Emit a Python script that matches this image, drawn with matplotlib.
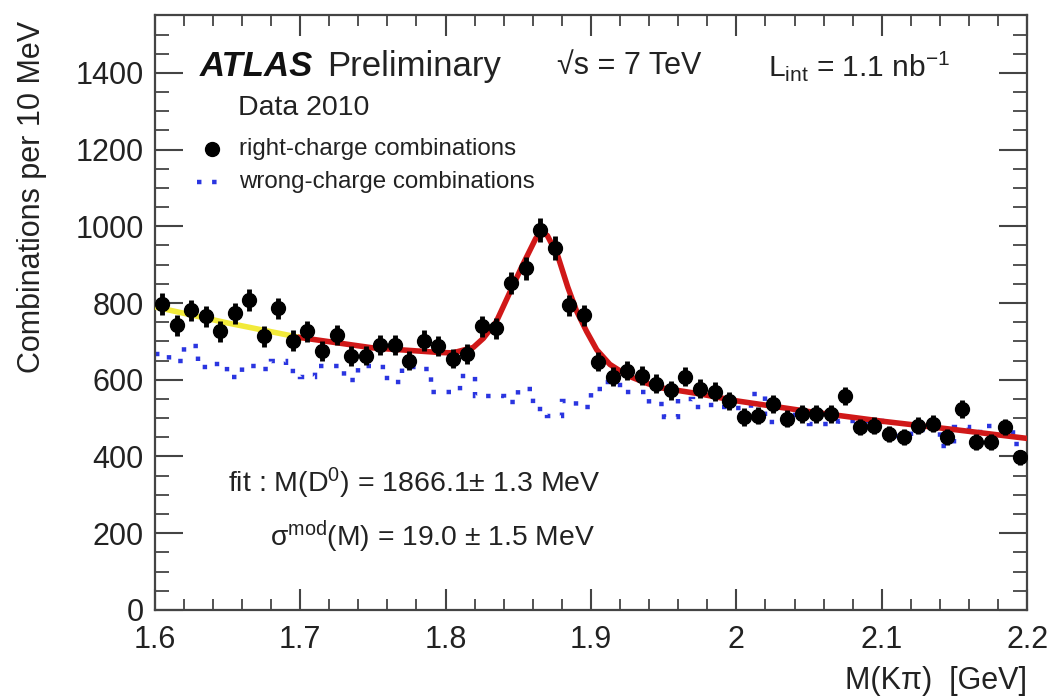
import numpy as np
import matplotlib
matplotlib.use("Agg")
import matplotlib.pyplot as plt
from matplotlib.ticker import MultipleLocator

plt.rcParams['font.family'] = ['Liberation Sans', 'DejaVu Sans']
plt.rcParams['mathtext.fontset'] = 'custom'
plt.rcParams['mathtext.rm'] = 'Liberation Sans'
plt.rcParams['mathtext.it'] = 'Liberation Sans'
plt.rcParams['mathtext.default'] = 'regular'

# 10 MeV bins, 1.6 - 2.2 GeV
bin_edges = np.linspace(1.6, 2.2, 61)
bin_centers = 0.5 * (bin_edges[:-1] + bin_edges[1:])

# right-charge combinations (data points)
right_charge = [797, 742, 781, 765, 726, 773, 807, 713, 786, 702,
                726, 674, 716, 661, 663, 690, 690, 650, 702, 687,
                655, 668, 739, 734, 852, 891, 991, 944, 794, 768,
                647, 608, 624, 611, 590, 572, 608, 577, 569, 545,
                503, 506, 537, 498, 511, 511, 511, 558, 477, 480,
                459, 451, 480, 485, 451, 524, 438, 438, 477, 398]

# wrong-charge combinations (dotted histogram)
wrong_charge = [668, 650, 687, 632, 642, 608, 637, 629, 650, 624,
                606, 637, 637, 598, 637, 632, 595, 634, 629, 569,
                569, 611, 558, 558, 542, 577, 524, 506, 545, 530,
                577, 595, 569, 569, 537, 503, 550, 530, 535, 530,
                525, 563, 490, 490, 516, 485, 485, 493, 493, 493,
                470, 453, 470, 480, 427, 477, 465, 480, 477, 432]

# fit curve
fit_x_extrap = [1.600, 1.650, 1.700]
fit_y_extrap = [790, 748, 710]
fit_x = [1.700, 1.750, 1.796, 1.805, 1.819, 1.826, 1.835, 1.844, 1.853, 1.862,
         1.866, 1.870, 1.877, 1.884, 1.890, 1.897, 1.904, 1.913, 1.925, 1.939,
         1.948, 1.975, 2.000, 2.050, 2.100, 2.150, 2.200]
fit_y = [710, 683, 671, 670, 684, 708, 752, 826, 899, 968,
         986, 976, 925, 842, 780, 726, 678, 640, 611, 590,
         579, 563, 545, 517, 492, 470, 447]

blue = "#2a35e0"
dotted = (0, (1, 2.4))
txt = "#222222"

fig = plt.figure(figsize=(10.6, 6.97), dpi=100)
ax = fig.add_axes([0.146, 0.125, 0.823, 0.853])

ax.stairs(wrong_charge, bin_edges, baseline=None, color=blue,
          linestyle=dotted, linewidth=3.2, zorder=2)
ax.plot(fit_x_extrap, fit_y_extrap, color="#f2ea3a", linewidth=4, zorder=3)
ax.plot(fit_x, fit_y, color="#d01818", linewidth=4, zorder=3)
ax.errorbar(bin_centers, right_charge, yerr=np.sqrt(right_charge), fmt="o",
            color="black", markersize=10, elinewidth=3.5, capsize=0, zorder=4)

ax.set_xlim(1.6, 2.2)
ax.set_ylim(0, 1550)
ax.xaxis.set_minor_locator(MultipleLocator(0.02))
ax.yaxis.set_major_locator(MultipleLocator(200))
ax.yaxis.set_minor_locator(MultipleLocator(50))
ax.set_xticks([1.6, 1.7, 1.8, 1.9, 2.0, 2.1, 2.2])
ax.set_xticklabels(["1.6", "1.7", "1.8", "1.9", "2", "2.1", "2.2"])
ax.tick_params(axis="both", which="both", direction="in", right=True, top=True,
               labelsize=22, color="#444444", labelcolor=txt)
ax.tick_params(axis="y", which="major", length=20, width=1.5, pad=8)
ax.tick_params(axis="y", which="minor", length=10, width=1.3)
ax.tick_params(axis="x", which="major", length=15, width=1.5, pad=11)
ax.tick_params(axis="x", which="minor", length=8, width=1.3)
for s in ax.spines.values():
    s.set_linewidth(1.6)
    s.set_color("#444444")

ax.set_ylabel("Combinations per 10 MeV", fontsize=22, color=txt)
ax.yaxis.set_label_coords(-0.123, 0.99)
ax.yaxis.label.set_horizontalalignment("right")
ax.set_xlabel("M(K\u03c0)  [GeV]", fontsize=22, ha="right", va="center", color=txt)
ax.xaxis.set_label_coords(1.0, -0.12)

ax.text(0.052, 0.914, "ATLAS", transform=ax.transAxes, fontsize=25,
        fontweight="bold", fontstyle="italic", va="center", color="#111111")
ax.text(0.198, 0.914, "Preliminary", transform=ax.transAxes, fontsize=25,
        va="center", color=txt)
ax.text(0.461, 0.914, "\u221as = 7 TeV", transform=ax.transAxes,
        fontsize=22, va="center", color=txt)
ax.text(0.703, 0.914, r"L$_{\mathrm{int}}$ = 1.1 nb$^{\mathrm{-1}}$",
        transform=ax.transAxes, fontsize=21.5, va="center", color=txt)
ax.text(0.095, 0.844, "Data 2010", transform=ax.transAxes, fontsize=20.5,
        va="center", color=txt)

# legend
ax.plot([0.066], [0.776], transform=ax.transAxes, marker="o", color="black",
        markersize=10, linestyle="none", clip_on=False)
ax.plot([0.048, 0.083], [0.719, 0.719], transform=ax.transAxes, color=blue,
        linestyle=dotted, linewidth=3.2, clip_on=False)
ax.text(0.097, 0.776, "right-charge combinations", transform=ax.transAxes,
        fontsize=17.4, va="center", color=txt)
ax.text(0.097, 0.719, "wrong-charge combinations", transform=ax.transAxes,
        fontsize=17.4, va="center", color=txt)

ax.text(0.084, 0.213, r"fit : M(D$^{0}$) = 1866.1$\pm$ 1.3 MeV",
        transform=ax.transAxes, fontsize=20.5, va="center", color=txt)
ax.text(0.132, 0.123, r"$\sigma^{mod}$(M) = 19.0 $\pm$ 1.5 MeV",
        transform=ax.transAxes, fontsize=20.3, va="center", color=txt)

fig.savefig("out.png", dpi=100)
